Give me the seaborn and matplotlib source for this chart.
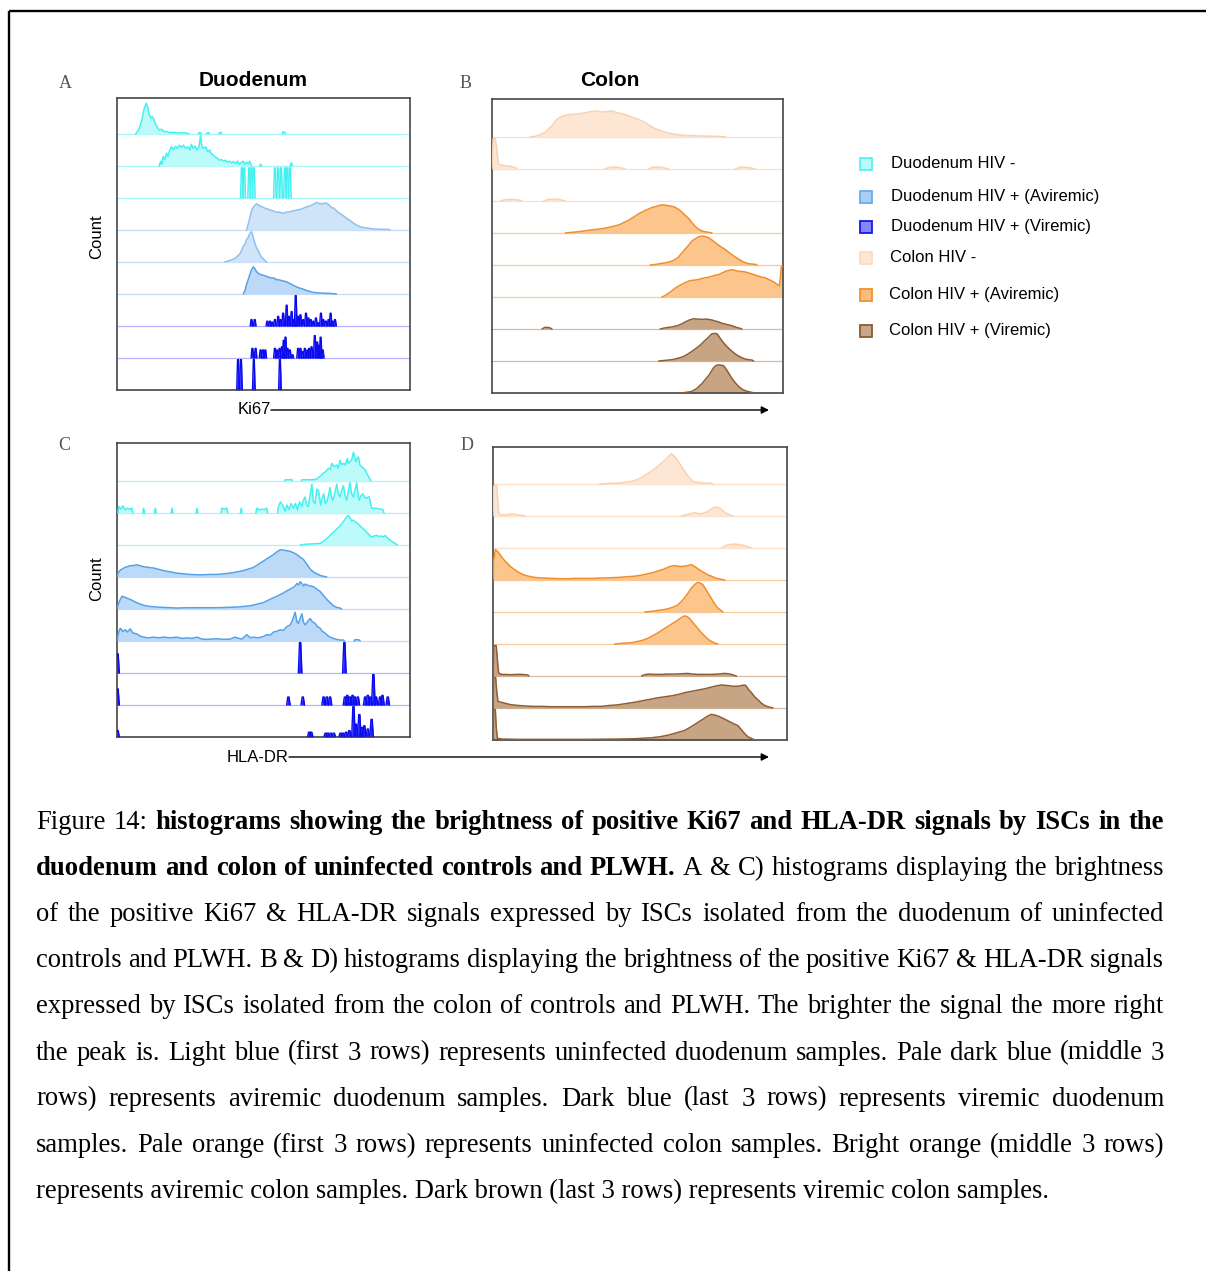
import numpy as np
import pandas as pd
import matplotlib
matplotlib.use("Agg")
import matplotlib.pyplot as plt
from matplotlib.patches import Rectangle
import seaborn as sns

sns.set_theme(style="white")
plt.rcParams["font.family"] = ["Liberation Sans", "DejaVu Sans"]
plt.rcParams["text.color"] = "black"

# ---------------- data: (intensity %, relative count) per histogram row ----------------
# Panel A  - Duodenum, Ki67
A1 = [(6.4,0),(7.5,0.15),(8.5,0.45),(9.3,0.8),(10.0,0.96),(10.6,0.8),(11.0,0.6),(11.5,0.5),(12.0,0.55),(12.6,0.45),(13.2,0.3),(13.8,0.2),(14.5,0.12),(15.2,0.15),(16.0,0.07),(17.0,0.08),(18.0,0.04),(19.5,0.05),(21.0,0.03),(22.5,0.04),(24.0,0.03),(24.5,0),(27.8,0),(28.0,0.04),(28.6,0.04),(28.8,0),(30.6,0),(30.8,0.04),(31.3,0.04),(31.5,0),(34.8,0),(35.0,0.05),(35.5,0.05),(35.7,0),(56.4,0),(56.6,0.06),(57.2,0.06),(57.4,0)]
A2 = [(14.4,0),(14.9,0.15),(15.3,0.05),(15.8,0.3),(16.3,0.2),(16.9,0.4),(17.4,0.3),(18.0,0.5),(18.6,0.6),(19.3,0.5),(20.0,0.62),(20.6,0.55),(21.3,0.65),(22.0,0.58),(22.7,0.65),(23.4,0.55),(24.1,0.6),(24.8,0.5),(25.4,0.68),(26.0,0.55),(26.6,0.62),(27.3,0.5),(28.0,0.6),(28.5,0.95),(29.0,0.6),(29.6,0.55),(30.3,0.6),(30.9,0.45),(31.6,0.5),(32.2,0.38),(32.8,0.35),(33.5,0.28),(34.2,0.25),(34.9,0.18),(35.6,0.2),(36.3,0.15),(37.0,0.18),(37.7,0.12),(38.4,0.15),(39.1,0.1),(39.8,0.14),(40.5,0.08),(41.2,0.15),(41.8,0.05),(42.5,0.12),(43.1,0.15),(43.6,0.05),(44.2,0.12),(44.8,0.06),(45.3,0.15),(45.9,0),(48.7,0),(49.0,0.06),(49.4,0),(59.1,0),(59.5,0.1),(59.9,0)]
A3 = [(42.6,0.94),(43.4,0.94),(45.1,0.94),(45.9,0.94),(46.7,0.94),(53.9,0.94),(55.0,0.94),(56.0,0.94),(57.3,0.94),(58.1,0.94),(59.0,0.94)]
A4 = [(44.2,0),(45.0,0.25),(45.9,0.6),(46.8,0.75),(47.6,0.82),(48.7,0.76),(49.6,0.72),(50.5,0.68),(51.3,0.66),(52.2,0.62),(53.3,0.6),(54.4,0.55),(55.5,0.56),(56.7,0.52),(57.8,0.56),(59.0,0.57),(60.2,0.6),(61.3,0.62),(62.5,0.64),(63.6,0.68),(64.7,0.72),(65.8,0.75),(67.0,0.8),(68.1,0.86),(69.3,0.82),(70.4,0.82),(71.3,0.85),(72.1,0.8),(73.2,0.7),(74.0,0.68),(74.9,0.6),(76.0,0.52),(77.2,0.45),(78.3,0.37),(79.5,0.3),(80.6,0.22),(81.8,0.15),(83.0,0.1),(84.1,0.08),(85.2,0.06),(86.3,0.05),(87.5,0.03),(88.6,0.03),(90.0,0.02),(92.6,0.02),(93.2,0)]
A5 = [(36.8,0),(38.2,0.04),(39.6,0.08),(40.8,0.15),(41.9,0.25),(42.5,0.35),(43.1,0.5),(43.7,0.55),(44.2,0.7),(44.7,0.75),(45.1,0.85),(45.5,0.9),(45.9,0.95),(46.3,0.85),(46.7,0.7),(47.2,0.55),(47.6,0.45),(48.2,0.35),(48.7,0.25),(49.3,0.15),(49.9,0.1),(50.5,0.04),(51.0,0)]
A6 = [(43.1,0),(43.7,0.1),(44.2,0.3),(44.8,0.45),(45.3,0.6),(45.9,0.75),(46.5,0.85),(47.0,0.8),(47.6,0.7),(48.2,0.65),(48.7,0.62),(49.3,0.6),(50.2,0.58),(51.0,0.55),(51.9,0.52),(52.7,0.5),(53.5,0.5),(54.4,0.45),(55.3,0.44),(56.2,0.42),(57.0,0.4),(57.9,0.38),(58.7,0.34),(59.6,0.3),(60.4,0.26),(61.3,0.22),(62.5,0.18),(63.6,0.15),(64.7,0.11),(65.8,0.08),(67.0,0.05),(68.1,0.04),(69.3,0.03),(70.4,0.03),(71.5,0.02),(72.7,0.02),(74.9,0)]
A7 = [(45.9,0.2),(47.0,0.2),(51.3,0.15),(52.2,0.15),(53.0,0.12),(53.9,0.2),(55.0,0.3),(55.8,0.2),(56.7,0.4),(57.9,0.65),(58.7,0.3),(59.6,0.45),(60.4,0.2),(61.0,0.95),(61.8,0.3),(62.6,0.35),(63.6,0.2),(64.5,0.4),(65.3,0.25),(66.1,0.2),(67.0,0.15),(67.9,0.25),(68.7,0.1),(69.6,0.4),(70.4,0.2),(71.3,0.15),(72.2,0.2),(72.9,0.4),(73.6,0.15),(74.4,0.2)]
A8 = [(46.2,0.3),(47.3,0.3),(49.0,0.25),(49.8,0.25),(50.6,0.25),(53.9,0.3),(54.7,0.25),(55.5,0.3),(56.3,0.35),(56.9,0.55),(57.5,0.65),(58.2,0.3),(59.0,0.25),(59.9,0.1),(61.8,0.3),(62.6,0.3),(63.4,0.2),(64.1,0.3),(65.0,0.25),(65.6,0.3),(66.4,0.35),(67.5,0.7),(68.3,0.5),(69.0,0.4),(69.5,0.65),(70.2,0.25)]
A9 = [(41.3,0.95),(42.3,0.95),(46.7,0.95),(55.6,0.95)]

# Panel B - Colon, Ki67
B1 = [(13.2,0),(14.6,0.02),(16.0,0.05),(17.1,0.1),(18.3,0.15),(19.4,0.25),(20.6,0.35),(21.4,0.45),(22.3,0.55),(23.2,0.6),(24.1,0.65),(25.2,0.68),(26.3,0.7),(27.5,0.7),(28.6,0.72),(29.8,0.72),(30.9,0.74),(32.0,0.76),(33.2,0.78),(34.3,0.8),(35.5,0.82),(36.6,0.8),(37.8,0.78),(39.0,0.79),(40.1,0.8),(41.2,0.82),(42.3,0.78),(43.5,0.75),(44.6,0.73),(45.8,0.7),(47.0,0.66),(48.1,0.62),(49.3,0.58),(50.4,0.55),(51.5,0.5),(52.7,0.45),(53.8,0.38),(55.0,0.32),(56.1,0.26),(57.3,0.22),(58.4,0.18),(59.6,0.15),(61.9,0.1),(64.1,0.07),(66.4,0.05),(69.3,0.04),(72.2,0.03),(77.9,0.02),(80.2,0)]
B2 = [(0,0),(0.4,0.95),(1.1,0.95),(1.7,0.6),(2.1,0.2),(2.5,0.14),(3.4,0.12),(4.5,0.1),(5.7,0.1),(6.9,0.07),(8.0,0.05),(8.6,0),(38.9,0),(40.0,0.04),(41.2,0.06),(42.3,0.06),(43.5,0.05),(45.8,0),(53.8,0),(55.0,0.05),(56.7,0.06),(58.4,0.05),(60.7,0),(83.6,0),(85.0,0.05),(86.5,0.06),(88.0,0.05),(90.5,0)]
B3 = [(2.9,0),(4.5,0.04),(6.9,0.05),(8.5,0.04),(10.3,0),(17.8,0),(19.4,0.05),(21.2,0.06),(23.0,0.05),(25.2,0)]
B4 = [(25.2,0),(27.5,0.02),(29.8,0.04),(32.1,0.07),(34.4,0.1),(36.6,0.12),(38.9,0.15),(41.2,0.2),(43.5,0.25),(45.2,0.32),(47.0,0.4),(48.7,0.5),(50.4,0.6),(52.1,0.68),(53.8,0.75),(55.0,0.8),(56.1,0.82),(57.3,0.86),(58.4,0.88),(59.6,0.87),(60.7,0.85),(61.9,0.83),(63.0,0.8),(64.1,0.74),(65.3,0.65),(66.4,0.55),(67.6,0.45),(68.7,0.32),(69.9,0.2),(71.0,0.12),(72.2,0.06),(73.3,0.04),(74.5,0.02),(75.6,0)]
B5 = [(54.4,0),(56.4,0.02),(58.4,0.05),(60.2,0.08),(61.9,0.12),(63.0,0.18),(64.1,0.25),(65.3,0.38),(66.4,0.5),(67.6,0.62),(68.7,0.75),(69.9,0.82),(71.0,0.88),(71.8,0.9),(72.7,0.9),(73.6,0.88),(74.5,0.85),(75.6,0.78),(76.7,0.7),(77.9,0.62),(79.0,0.55),(80.2,0.48),(81.3,0.4),(82.5,0.32),(83.6,0.25),(84.8,0.18),(85.9,0.12),(87.1,0.07),(88.2,0.04),(89.3,0.03),(90.5,0.02),(91.1,0)]
B6 = [(58.4,0),(59.6,0.05),(60.7,0.12),(61.9,0.2),(63.0,0.28),(64.1,0.34),(65.3,0.4),(66.4,0.45),(67.6,0.5),(68.7,0.52),(69.9,0.53),(71.0,0.55),(72.2,0.58),(73.3,0.6),(74.5,0.62),(75.6,0.65),(76.7,0.68),(77.9,0.7),(79.0,0.75),(80.2,0.8),(81.3,0.83),(82.5,0.85),(83.6,0.83),(84.8,0.8),(85.9,0.8),(87.1,0.78),(88.2,0.75),(89.3,0.72),(90.5,0.68),(91.6,0.65),(92.7,0.62),(93.9,0.6),(95.0,0.55),(96.2,0.5),(97.3,0.44),(97.9,0.4),(98.7,0.35),(99.1,0.6),(99.4,0.95),(100,0.95)]
B7 = [(17.2,0),(18.1,0.05),(19.0,0.05),(19.8,0.04),(20.6,0),(57.8,0),(59.2,0.03),(60.7,0.05),(62.1,0.07),(63.6,0.1),(65.0,0.15),(66.4,0.22),(67.8,0.28),(69.3,0.32),(70.7,0.31),(72.2,0.3),(73.3,0.31),(74.5,0.3),(75.6,0.28),(76.7,0.25),(77.9,0.22),(79.0,0.18),(80.8,0.14),(82.5,0.1),(84.0,0.05),(85.3,0.02),(85.9,0)]
B8 = [(57.3,0),(59.6,0.02),(61.9,0.04),(63.6,0.08),(65.3,0.12),(67.0,0.2),(68.7,0.3),(70.2,0.4),(71.6,0.5),(72.7,0.6),(73.9,0.7),(74.8,0.78),(75.6,0.85),(76.5,0.86),(77.3,0.85),(77.9,0.78),(78.5,0.7),(79.3,0.6),(80.2,0.5),(81.3,0.4),(82.5,0.3),(83.6,0.22),(84.8,0.15),(85.9,0.1),(87.1,0.06),(88.2,0.04),(89.3,0.03),(89.9,0)]
B9 = [(64.7,0),(66.7,0.02),(68.7,0.05),(70.5,0.15),(72.2,0.3),(73.3,0.42),(74.5,0.55),(75.4,0.68),(76.2,0.8),(77.0,0.86),(77.9,0.88),(78.7,0.87),(79.6,0.85),(80.2,0.78),(80.8,0.7),(81.6,0.58),(82.5,0.45),(83.6,0.32),(84.8,0.2),(85.9,0.12),(87.1,0.07),(88.2,0.04),(89.3,0.02),(89.9,0)]

# Panel C - Duodenum, HLA-DR
C1 = [(57.2,0),(57.4,0.04),(59.7,0.04),(59.9,0),(62.9,0),(63.1,0.04),(64.8,0.04),(67.0,0.04),(68.2,0.06),(69.3,0.15),(70.5,0.25),(71.3,0.3),(72.2,0.4),(72.8,0.35),(73.3,0.55),(74.1,0.45),(75.0,0.5),(75.5,0.4),(76.1,0.65),(76.7,0.5),(77.3,0.55),(77.9,0.5),(78.6,0.7),(79.0,0.55),(79.5,0.6),(80.1,0.65),(80.7,0.9),(81.2,0.7),(81.6,0.6),(82.0,0.72),(82.4,0.75),(82.9,0.5),(83.5,0.45),(84.1,0.4),(84.7,0.35),(85.2,0.25),(85.8,0.15),(86.4,0.05),(86.6,0)]
C2 = [(0.3,0),(0.6,0.2),(1.3,0.12),(2.0,0.22),(2.8,0.1),(3.6,0.15),(4.4,0.12),(5.1,0.15),(5.4,0),(8.8,0),(9.1,0.15),(9.4,0),(12.8,0),(13.1,0.15),(13.4,0),(18.5,0),(18.8,0.15),(19.1,0),(27.0,0),(27.3,0.15),(27.6,0),(35.5,0),(35.8,0.15),(36.6,0.12),(37.5,0.15),(37.8,0),(42.1,0),(42.4,0.15),(42.7,0),(47.4,0),(47.7,0.15),(48.5,0.1),(49.4,0.12),(50.2,0.1),(51.1,0.15),(51.4,0),(54.8,0),(55.1,0.2),(55.8,0.35),(56.8,0.2),(57.4,0.05),(58.0,0.25),(58.7,0.1),(59.4,0.3),(60.2,0.15),(60.9,0.3),(61.6,0.1),(62.3,0.35),(63.1,0.2),(63.6,0.4),(64.2,0.5),(64.7,0.25),(65.3,0.2),(65.9,0.55),(66.5,0.9),(67.0,0.35),(67.6,0.3),(68.2,0.75),(68.8,0.7),(69.5,0.25),(70.0,0.45),(70.5,0.6),(71.1,0.3),(71.6,0.35),(72.2,0.55),(72.7,0.8),(73.2,0.5),(73.6,0.4),(74.3,0.6),(75.0,0.9),(75.5,0.6),(76.1,0.5),(76.7,0.7),(77.3,0.85),(77.8,0.55),(78.4,0.4),(79.0,0.7),(79.5,0.95),(80.1,0.6),(80.7,0.5),(81.2,0.7),(81.8,0.95),(82.3,0.55),(82.7,0.4),(83.3,0.55),(83.9,0.6),(84.5,0.5),(85.2,0.45),(85.6,0.5),(86.1,0.5),(86.5,0.3),(86.9,0.15),(87.7,0.15),(88.6,0.15),(89.4,0.12),(90.3,0.12),(90.8,0.1),(91.1,0)]
C3 = [(62.5,0),(64.2,0.02),(65.9,0.03),(67.6,0.04),(69.3,0.05),(70.5,0.12),(71.6,0.2),(72.7,0.3),(73.9,0.4),(75.0,0.5),(76.1,0.6),(77.0,0.7),(77.8,0.8),(78.4,0.88),(79.0,0.92),(79.5,0.85),(80.1,0.75),(80.7,0.78),(81.3,0.72),(81.8,0.7),(82.7,0.62),(83.5,0.55),(84.4,0.48),(85.2,0.4),(86.0,0.32),(86.9,0.25),(87.7,0.28),(88.6,0.3),(89.4,0.27),(90.3,0.28),(90.9,0.25),(91.5,0.3),(92.3,0.22),(93.2,0.15),(94.0,0.1),(94.9,0.05),(95.7,0)]
C4 = [(0,0),(0.5,0.15),(1.2,0.22),(2.3,0.28),(3.4,0.32),(4.5,0.35),(5.7,0.36),(6.8,0.38),(8.0,0.35),(9.1,0.32),(10.8,0.3),(12.5,0.28),(14.2,0.24),(15.9,0.2),(18.2,0.16),(20.5,0.12),(22.7,0.1),(25.0,0.08),(27.3,0.07),(29.5,0.07),(31.8,0.08),(34.1,0.08),(36.4,0.1),(38.6,0.12),(40.9,0.16),(43.2,0.2),(44.9,0.25),(46.6,0.3),(48.3,0.4),(50.0,0.5),(51.7,0.6),(53.4,0.7),(54.5,0.78),(55.7,0.85),(56.8,0.84),(58.0,0.82),(59.1,0.8),(60.2,0.76),(61.4,0.7),(62.5,0.62),(63.6,0.55),(64.8,0.4),(65.9,0.25),(67.0,0.16),(68.2,0.1),(69.3,0.05),(70.5,0.02),(71.6,0)]
C5 = [(0,0),(0.6,0.2),(1.7,0.4),(2.8,0.36),(4.5,0.3),(6.2,0.22),(8.0,0.15),(9.7,0.1),(11.4,0.08),(13.6,0.06),(15.9,0.05),(18.2,0.04),(20.5,0.03),(23.9,0.04),(27.3,0.04),(30.7,0.04),(34.1,0.04),(37.5,0.05),(40.9,0.06),(43.2,0.08),(45.5,0.1),(47.7,0.15),(50.0,0.2),(51.7,0.28),(53.4,0.35),(55.1,0.42),(56.8,0.5),(58.2,0.58),(59.7,0.65),(60.8,0.72),(61.4,0.8),(62.0,0.75),(62.5,0.85),(63.1,0.8),(63.7,0.72),(64.2,0.78),(64.8,0.75),(65.9,0.72),(67.0,0.7),(68.2,0.62),(69.3,0.55),(70.5,0.42),(71.6,0.3),(72.7,0.2),(73.9,0.1),(75.0,0.05),(76.1,0.03),(76.7,0)]
C6 = [(0,0),(0.5,0.25),(1.1,0.4),(2.0,0.3),(2.8,0.35),(3.6,0.28),(4.5,0.38),(5.4,0.25),(6.8,0.22),(8.0,0.15),(9.1,0.12),(10.8,0.1),(12.5,0.12),(14.2,0.1),(15.9,0.12),(18.2,0.1),(20.5,0.12),(22.2,0.08),(23.9,0.1),(25.6,0.08),(27.3,0.12),(29.0,0.06),(30.7,0.05),(32.4,0.06),(34.1,0.07),(36.4,0.05),(38.6,0.06),(40.3,0.12),(40.9,0.1),(42.6,0.06),(44.3,0.2),(45.5,0.1),(46.6,0.12),(48.3,0.1),(50.0,0.14),(51.1,0.2),(52.3,0.18),(53.4,0.28),(54.5,0.3),(55.7,0.35),(56.8,0.33),(58.0,0.45),(59.1,0.5),(59.9,0.65),(60.8,0.9),(61.4,0.6),(61.9,0.55),(62.5,0.7),(63.1,0.85),(63.6,0.6),(64.2,0.5),(65.0,0.6),(65.9,0.7),(66.7,0.6),(67.6,0.55),(68.4,0.45),(69.3,0.4),(70.1,0.3),(71.0,0.25),(71.8,0.18),(72.7,0.12),(73.9,0.08),(75.0,0.05),(76.1,0.03),(77.3,0.03),(77.6,0),(80.9,0),(81.2,0.04),(82.5,0.04),(83.0,0)]
C7 = [(0.2,0.6),(62.5,0.95),(77.6,0.95)]
C8 = [(0.2,0.5),(58.5,0.25),(63.4,0.25),(70.5,0.25),(71.6,0.25),(72.7,0.25),(77.8,0.25),(78.6,0.3),(79.5,0.25),(80.4,0.3),(81.2,0.25),(82.2,0.25),(84.7,0.25),(85.6,0.3),(86.5,0.25),(87.5,0.95),(88.4,0.25),(89.8,0.25),(90.6,0.3),(92.4,0.25)]
C9 = [(0.2,0.2),(65.6,0.15),(66.3,0.15),(71.2,0.12),(72.0,0.12),(73.0,0.12),(74.0,0.12),(76.3,0.12),(77.2,0.12),(78.2,0.15),(79.3,0.2),(80.7,0.95),(81.6,0.4),(82.7,0.7),(83.5,0.3),(84.4,0.35),(85.6,0.25),(86.9,0.55)]

# Panel D - Colon, HLA-DR
D1 = [(36.3,0),(39.4,0.02),(42.5,0.03),(44.8,0.05),(47.1,0.08),(48.8,0.13),(50.5,0.2),(52.2,0.3),(53.9,0.4),(55.6,0.52),(57.3,0.65),(58.2,0.72),(59.0,0.8),(59.9,0.88),(60.7,0.95),(61.5,0.88),(62.4,0.8),(63.2,0.68),(64.1,0.55),(65.2,0.4),(66.3,0.25),(67.2,0.15),(68.0,0.08),(69.5,0.05),(70.9,0.04),(72.6,0.03),(74.3,0.02),(74.8,0)]
D2 = [(0,0),(0.3,0.95),(1.2,0.95),(1.6,0.5),(1.9,0.1),(2.6,0.05),(3.4,0.03),(5.1,0.05),(6.5,0.06),(7.4,0.05),(9.0,0.03),(10.8,0),(64.1,0),(65.2,0.03),(66.3,0.05),(67.5,0.08),(68.6,0.1),(69.7,0.08),(70.9,0.07),(72.0,0.1),(73.1,0.14),(74.3,0.22),(75.4,0.28),(76.2,0.27),(77.1,0.25),(78.0,0.18),(78.8,0.12),(79.7,0.07),(80.5,0.04),(81.6,0)]
D3 = [(77.7,0),(78.8,0.06),(79.9,0.1),(81.3,0.12),(82.8,0.12),(84.2,0.1),(85.6,0.07),(86.7,0.03),(87.9,0)]
D4 = [(0,0),(0.2,0.6),(0.8,0.95),(1.5,0.9),(2.3,0.8),(3.1,0.7),(4.0,0.6),(5.1,0.5),(6.2,0.4),(7.4,0.32),(8.5,0.25),(9.6,0.2),(10.8,0.15),(12.5,0.11),(14.2,0.08),(17.0,0.06),(19.8,0.05),(22.7,0.04),(25.5,0.04),(28.3,0.05),(31.2,0.05),(34.0,0.05),(36.8,0.06),(39.7,0.07),(42.5,0.08),(45.4,0.1),(48.2,0.12),(51.0,0.16),(53.9,0.22),(56.1,0.28),(58.4,0.35),(60.1,0.42),(61.8,0.45),(63.0,0.43),(64.1,0.42),(65.8,0.44),(67.5,0.48),(68.6,0.42),(69.7,0.35),(70.9,0.28),(72.0,0.22),(73.1,0.16),(74.3,0.12),(75.4,0.07),(76.5,0.04),(77.7,0.02),(78.8,0)]
D5 = [(51.6,0),(53.9,0.02),(56.1,0.05),(57.8,0.07),(59.5,0.1),(61.2,0.15),(62.9,0.22),(64.1,0.33),(65.2,0.45),(66.4,0.6),(67.5,0.75),(68.6,0.86),(69.7,0.93),(70.6,0.9),(71.4,0.85),(72.3,0.72),(73.1,0.6),(74.3,0.42),(75.4,0.25),(76.5,0.12),(77.7,0.04),(78.2,0)]
D6 = [(41.4,0),(43.7,0.02),(45.9,0.03),(47.6,0.05),(49.3,0.08),(51.0,0.12),(52.7,0.18),(54.4,0.26),(56.1,0.35),(57.8,0.45),(59.5,0.55),(61.2,0.65),(62.9,0.75),(64.1,0.83),(65.2,0.88),(66.1,0.85),(66.9,0.8),(67.7,0.7),(68.6,0.6),(69.7,0.48),(70.9,0.35),(72.0,0.25),(73.1,0.15),(74.3,0.08),(75.4,0.03),(76.5,0)]
D7 = [(0,0),(0.3,0.95),(1.1,0.95),(1.5,0.5),(1.9,0.1),(2.8,0.05),(4.0,0.05),(6.0,0.04),(8.0,0.05),(10.0,0.05),(11.9,0.03),(12.2,0),(50.5,0),(51.6,0.04),(52.7,0.06),(55.0,0.05),(57.3,0.05),(59.5,0.06),(61.8,0.06),(64.1,0.07),(66.3,0.08),(68.0,0.06),(69.7,0.05),(72.0,0.05),(74.3,0.05),(76.5,0.06),(78.8,0.08),(80.0,0.07),(81.1,0.05),(82.0,0.02),(82.8,0)]
D8 = [(0,0),(0.2,0.95),(0.9,0.95),(1.3,0.5),(1.7,0.2),(2.8,0.18),(4.0,0.15),(6.2,0.1),(8.5,0.08),(11.3,0.06),(14.2,0.05),(17.0,0.05),(19.8,0.04),(25.5,0.04),(31.2,0.04),(34.0,0.05),(36.8,0.05),(39.7,0.08),(42.5,0.1),(45.4,0.14),(48.2,0.18),(51.0,0.23),(53.9,0.28),(56.1,0.32),(58.4,0.35),(60.7,0.38),(62.9,0.42),(65.2,0.48),(67.5,0.52),(69.7,0.56),(72.0,0.6),(73.7,0.64),(75.4,0.68),(76.5,0.7),(77.7,0.72),(78.8,0.71),(79.9,0.7),(81.6,0.68),(83.3,0.68),(84.4,0.7),(85.6,0.72),(86.2,0.68),(86.7,0.6),(87.9,0.48),(89.0,0.35),(90.2,0.25),(91.3,0.15),(92.4,0.08),(93.5,0.04),(94.4,0.02),(95.2,0)]
D9 = [(0,0),(0.2,0.95),(0.8,0.95),(1.1,0.4),(1.5,0.05),(3.0,0.03),(8.5,0.02),(19.8,0.02),(31.2,0.02),(42.5,0.03),(48.2,0.04),(53.9,0.07),(56.7,0.1),(59.5,0.15),(62.3,0.22),(65.2,0.3),(67.5,0.42),(69.7,0.55),(71.4,0.65),(73.1,0.75),(74.3,0.8),(75.4,0.78),(76.5,0.75),(78.2,0.68),(79.9,0.6),(81.6,0.52),(83.3,0.45),(84.5,0.32),(85.6,0.2),(86.7,0.1),(87.9,0.05),(89.0,0)]

legend_labels = ["Duodenum HIV -", "Duodenum HIV + (Aviremic)", "Duodenum HIV + (Viremic)",
                 "Colon HIV -", "Colon HIV + (Aviremic)", "Colon HIV + (Viremic)"]
panel_titles = ["Duodenum", "Colon"]
panel_letters = ["A", "B", "C", "D"]
axis_markers = ["Ki67", "HLA-DR"]

caption_lines = [
    "Figure 14: **histograms showing the brightness of positive Ki67 and HLA-DR signals by ISCs in the**",
    "**duodenum and colon of uninfected controls and PLWH.** A & C) histograms displaying the brightness",
    "of the positive Ki67 & HLA-DR signals expressed by ISCs isolated from the duodenum of uninfected",
    "controls and PLWH. B & D) histograms displaying the brightness of the positive Ki67 & HLA-DR signals",
    "expressed by ISCs isolated from the colon of controls and PLWH. The brighter the signal the more right",
    "the peak is. Light blue (first 3 rows) represents uninfected duodenum samples. Pale dark blue (middle 3",
    "rows) represents aviremic duodenum samples. Dark blue (last 3 rows) represents viremic duodenum",
    "samples. Pale orange (first 3 rows) represents uninfected colon samples. Bright orange (middle 3 rows)",
    "represents aviremic colon samples. Dark brown (last 3 rows) represents viremic colon samples.",
]

# ---------------- styles ----------------
CYAN = dict(line="#45f0f0", fill="#bdfbfb", base="#a8f6f6")
LBLUE = dict(line="#8fc0ef", fill="#cfe4f9", base="#c4def8")
MBLUE = dict(line="#55a2ea", fill="#bcd9f7", base="#c4def8")
DBLUE = dict(line="#0a0aee", fill="#2525ff", base="#b4b4ff")
PEACH = dict(line="#f7d3b4", fill="#fde6d3", base="#fbdfc8")
ORANGE = dict(line="#f08e2a", fill="#fbc58c", base="#f8caa0")
BROWN = dict(line="#8f5f34", fill="#c7a484", base="#d6bca2")

panels = {
    "A": dict(rect=(117, 98, 410, 390), rows=[A1, A2, A3, A4, A5, A6, A7, A8, A9],
              styles=[CYAN, CYAN, CYAN, LBLUE, LBLUE, MBLUE, DBLUE, DBLUE, DBLUE],
              spikes=[False, False, True, False, False, False, True, True, True]),
    "B": dict(rect=(492, 99, 783, 393), rows=[B1, B2, B3, B4, B5, B6, B7, B8, B9],
              styles=[PEACH] * 3 + [ORANGE] * 3 + [BROWN] * 3, spikes=[False] * 9),
    "C": dict(rect=(117, 443, 410, 737), rows=[C1, C2, C3, C4, C5, C6, C7, C8, C9],
              styles=[CYAN] * 3 + [MBLUE] * 3 + [DBLUE] * 3,
              spikes=[False] * 6 + [True] * 3),
    "D": dict(rect=(493, 447, 787, 740), rows=[D1, D2, D3, D4, D5, D6, D7, D8, D9],
              styles=[PEACH] * 3 + [ORANGE] * 3 + [BROWN] * 3, spikes=[False] * 9),
}

W, H = 1206, 1271
fig = plt.figure(figsize=(W / 100, H / 100), dpi=100)
fig.patch.set_facecolor("white")

ov = fig.add_axes([0, 0, 1, 1])
ov.set_xlim(0, W)
ov.set_ylim(H, 0)
ov.axis("off")
ov.set_zorder(0)


def draw_curve(ax, base, pts, st):
    xs = np.array([p[0] for p in pts], float)
    hs = np.array([p[1] for p in pts], float)
    ax.fill_between(xs, base, base + hs, color=st["fill"], lw=0, zorder=2)
    seg = np.zeros(len(xs), int)
    s = 0
    for i in range(1, len(xs)):
        if hs[i - 1] == 0 and hs[i] == 0:
            s += 1
        seg[i] = s
    df = pd.DataFrame({"x": xs, "y": base + hs, "seg": seg})
    counts = df["seg"].value_counts()
    df = df[df["seg"].map(counts) > 1]
    sns.lineplot(data=df, x="x", y="y", units="seg", estimator=None, sort=False,
                 color=st["line"], linewidth=1.1, ax=ax, legend=False, zorder=3)


def draw_spikes(ax, base, spikes, st, hw=0.45):
    recs = []
    for k, (x, h) in enumerate(spikes):
        px = [x - hw, x - hw * 0.35, x + hw * 0.35, x + hw]
        py = [0, h, h, 0]
        ax.fill_between(px, base, base + np.array(py), color=st["fill"], lw=0, zorder=2)
        recs += [(k, a, base + b) for a, b in zip(px, py)]
    df = pd.DataFrame(recs, columns=["seg", "x", "y"])
    sns.lineplot(data=df, x="x", y="y", units="seg", estimator=None, sort=False,
                 color=st["line"], linewidth=1.0, ax=ax, legend=False, zorder=3)


for key, p in panels.items():
    l, t, r, b = p["rect"]
    ax = fig.add_axes([l / W, 1 - b / H, (r - l) / W, (b - t) / H])
    ax.set_zorder(1)
    rowh = 32.0
    ytop = (b - t) / rowh
    for i, (pts, st, sp) in enumerate(zip(p["rows"], p["styles"], p["spikes"])):
        base = 8 - i
        ax.axhline(base, color=st["base"], lw=0.9, zorder=1)
        if sp:
            hw = 0.45 if key == "A" else 0.6
            draw_spikes(ax, base, pts, st, hw=hw)
        else:
            draw_curve(ax, base, pts, st)
    ax.set_xlim(0, 100)
    ax.set_ylim(0, ytop)
    ax.set_xticks([])
    ax.set_yticks([])
    ax.set_xlabel("")
    ax.set_ylabel("")
    for sp_ in ax.spines.values():
        sp_.set_color("#474747")
        sp_.set_linewidth(1.2)

# titles, letters, axis labels
ov.text(253, 80, panel_titles[0], ha="center", va="center", fontsize=15, fontweight="bold",
        color="black")
ov.text(610, 80, panel_titles[1], ha="center", va="center", fontsize=15, fontweight="bold",
        color="black")
for letter, (x, y) in zip(panel_letters, [(65, 84), (466, 84), (64, 446), (467, 446)]):
    ov.text(x, y, letter, ha="center", va="center", fontsize=13, color="#555555",
            family=["Liberation Serif", "DejaVu Serif"])
ov.text(97, 237, "Count", rotation=90, ha="center", va="center", fontsize=12, color="black")
ov.text(97, 579, "Count", rotation=90, ha="center", va="center", fontsize=12, color="black")

ov.text(271, 410, axis_markers[0], ha="right", va="center", fontsize=12, color="black")
ov.annotate("", xy=(769, 410), xytext=(271, 410),
            arrowprops=dict(arrowstyle="-|>", color="black", lw=1.0, mutation_scale=11,
                            shrinkA=0, shrinkB=0))
ov.text(289, 757, axis_markers[1], ha="right", va="center", fontsize=12, color="black")
ov.annotate("", xy=(769, 757), xytext=(289, 757),
            arrowprops=dict(arrowstyle="-|>", color="black", lw=1.0, mutation_scale=11,
                            shrinkA=0, shrinkB=0))

# legend
leg_styles = [("#b8fbfb", "#55f2f2"), ("#a9cff5", "#6aaaee"), ("#8585ff", "#1818e8"),
              ("#fde8d6", "#f9dcc4"), ("#fbbd7c", "#f29030"), ("#caa78a", "#8a5c34")]
leg_y = [164, 197, 227, 258, 295, 331]
leg_tx = [891, 891, 891, 890, 889, 889]
for lab, (fc, ec), y, tx in zip(legend_labels, leg_styles, leg_y, leg_tx):
    ov.add_patch(Rectangle((860, y - 6), 12, 12, facecolor=fc, edgecolor=ec, lw=1.3))
    ov.text(tx, y, lab, ha="left", va="center", fontsize=12, color="black")

# outer frame
ov.add_patch(Rectangle((9, 11), 1230, 1300, fill=False, lw=1.7, edgecolor="black",
                       clip_on=False))

# caption (justified)
serif = ["Liberation Serif", "DejaVu Serif"]
renderer = fig.canvas.get_renderer()


def twidth(s, bold, size):
    t = ov.text(0, 0, s, fontsize=size, family=serif, fontweight="bold" if bold else "normal")
    w = t.get_window_extent(renderer).width
    t.remove()
    return w


plain_last = caption_lines[-1]
size = 18 * 1015.0 / twidth(plain_last, False, 18)
x0, x1 = 36, 1164
for i, line in enumerate(caption_lines):
    y = 829 + 46.1 * i
    words = []
    parts = line.split("**")
    for j, part in enumerate(parts):
        for w in part.split():
            words.append((w, j % 2 == 1))
    if i == len(caption_lines) - 1:
        ov.text(x0, y, line, fontsize=size, family=serif, va="baseline", ha="left",
                color="black")
        continue
    widths = [twidth(w, bd, size) for w, bd in words]
    gap = (x1 - x0 - sum(widths)) / (len(words) - 1)
    x = x0
    for (w, bd), ww in zip(words, widths):
        ov.text(x, y, w, fontsize=size, family=serif, va="baseline", ha="left",
                fontweight="bold" if bd else "normal", color="black")
        x += ww + gap

fig.savefig("out.png", dpi=100, facecolor="white")
